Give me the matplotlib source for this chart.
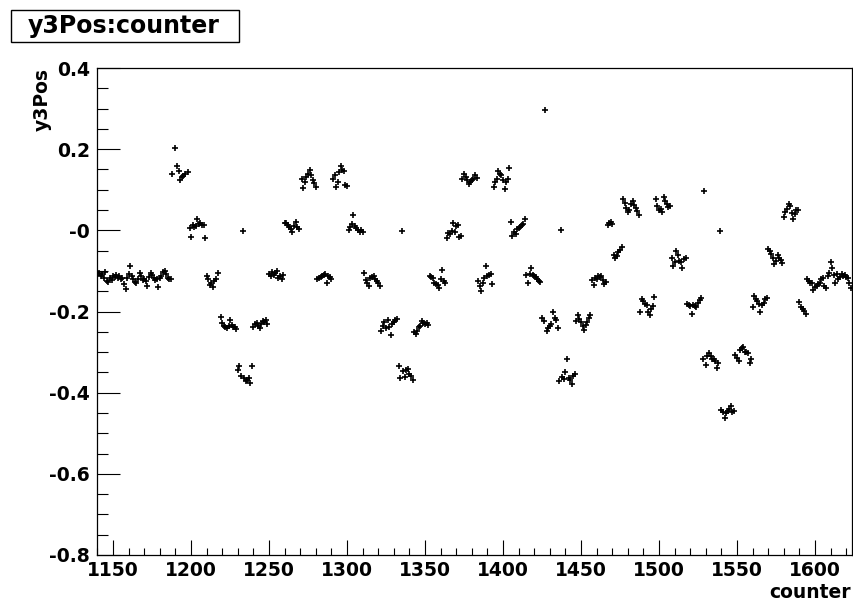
import matplotlib
matplotlib.use("Agg")
import matplotlib.pyplot as plt
from matplotlib.ticker import MultipleLocator, FixedLocator, FixedFormatter
from matplotlib.patches import Rectangle

# ---------------- data ----------------
counter_1 = [1140, 1141, 1142, 1143, 1144, 1145, 1146, 1147, 1148, 1149,
             1150, 1151, 1152, 1153, 1154, 1155, 1156, 1157, 1158, 1159,
             1160, 1161, 1162, 1163, 1164, 1165, 1166, 1167, 1168, 1169,
             1170, 1171, 1172, 1173, 1174, 1175, 1176, 1177, 1178, 1179,
             1180, 1181, 1182, 1183, 1184, 1185, 1186, 1187]
y3pos_1 = [-0.110, -0.105, -0.112, -0.108, -0.118, -0.103, -0.125, -0.128, -0.118, -0.122,
           -0.112, -0.115, -0.110, -0.118, -0.112, -0.121, -0.117, -0.132, -0.145, -0.118,
           -0.108, -0.088, -0.112, -0.120, -0.127, -0.130, -0.119, -0.106, -0.112, -0.123,
           -0.121, -0.126, -0.136, -0.115, -0.104, -0.110, -0.118, -0.122, -0.120, -0.139,
           -0.117, -0.112, -0.103, -0.100, -0.108, -0.117, -0.119, -0.121]

counter_2 = [1188, 1190, 1191, 1192, 1193, 1194, 1195, 1196, 1198,
             1199, 1200, 1201, 1202, 1203, 1204, 1205, 1206, 1207, 1208, 1209,
             1210, 1211, 1212, 1213, 1214, 1215, 1216, 1217,
             1219, 1220, 1221, 1222, 1223, 1224, 1225, 1226, 1227, 1228, 1229,
             1230, 1231, 1232, 1233, 1234, 1235, 1236, 1237, 1238, 1239,
             1240, 1241, 1242, 1243, 1244, 1245, 1246, 1247, 1248, 1249,
             1250, 1251, 1252, 1253, 1254, 1255, 1256, 1257, 1258, 1259,
             1260, 1261, 1262, 1263, 1264, 1265, 1266, 1267, 1268, 1269,
             1271, 1272, 1273, 1274, 1275, 1276, 1277, 1278, 1279, 1280,
             1281, 1282, 1283, 1284, 1285, 1286, 1287, 1288, 1289, 1290]
y3pos_2 = [0.140, 0.204, 0.159, 0.146, 0.124, 0.132, 0.135, 0.138, 0.143,
           0.005, -0.017, 0.012, 0.008, 0.010, 0.027, 0.016, 0.018, 0.013, 0.012, -0.020,
           -0.112, -0.121, -0.135, -0.129, -0.140, -0.126, -0.119, -0.104,
           -0.214, -0.229, -0.235, -0.239, -0.241, -0.236, -0.220, -0.233, -0.237, -0.239, -0.243,
           -0.345, -0.335, -0.360, -0.001, -0.365, -0.372, -0.368, -0.365, -0.375, -0.335,
           -0.237, -0.232, -0.229, -0.236, -0.241, -0.230, -0.223, -0.225, -0.220, -0.231,
           -0.108, -0.112, -0.103, -0.110, -0.106, -0.100, -0.117, -0.113, -0.121, -0.110,
           0.018, 0.019, 0.012, 0.008, 0.004, -0.003, 0.010, 0.020, 0.008, 0.004,
           0.126, 0.105, 0.120, 0.132, 0.138, 0.149, 0.136, 0.125, 0.116, 0.107,
           -0.121, -0.118, -0.114, -0.112, -0.109, -0.108, -0.129, -0.112, -0.115, -0.119]

counter_3 = [1291, 1292, 1293, 1294, 1295, 1296, 1297, 1298, 1299, 1300,
             1301, 1302, 1303, 1304, 1305, 1306, 1307, 1308, 1309, 1310,
             1311, 1312, 1313, 1314, 1315, 1316, 1317, 1318, 1319, 1320, 1321,
             1322, 1323, 1324, 1325, 1326, 1327, 1328, 1329, 1330, 1331, 1332,
             1333, 1334, 1335, 1336, 1337, 1338, 1339, 1340, 1341, 1342,
             1343, 1344, 1345, 1346, 1347, 1348, 1349, 1350, 1351, 1352,
             1353, 1354, 1355, 1356, 1357, 1358, 1359, 1360, 1361, 1362, 1363,
             1364, 1365, 1366, 1367, 1368, 1369, 1370, 1371, 1372, 1373,
             1374, 1375, 1376, 1377, 1378, 1379, 1380, 1381, 1382, 1383,
             1384, 1385, 1386, 1387, 1388, 1389, 1390, 1391, 1392, 1393]
y3pos_3 = [0.126, 0.136, 0.107, 0.120, 0.143, 0.159, 0.149, 0.146, 0.111, 0.110,
           0.002, 0.008, 0.016, 0.039, 0.010, 0.005, 0.000, -0.003, 0.002, -0.003,
           -0.104, -0.122, -0.130, -0.136, -0.117, -0.114, -0.112, -0.120, -0.125, -0.130, -0.136,
           -0.247, -0.235, -0.227, -0.240, -0.222, -0.238, -0.258, -0.231, -0.226, -0.221, -0.218,
           -0.334, -0.364, -0.002, -0.347, -0.361, -0.344, -0.341, -0.353, -0.358, -0.369,
           -0.250, -0.256, -0.248, -0.239, -0.236, -0.223, -0.228, -0.231, -0.229, -0.233,
           -0.112, -0.115, -0.117, -0.129, -0.132, -0.135, -0.143, -0.121, -0.098, -0.125, -0.129,
           -0.019, -0.007, -0.010, -0.002, 0.018, -0.005, 0.010, 0.014, -0.017, -0.013,
           0.127, 0.139, 0.132, 0.125, 0.114, 0.120, 0.124, 0.126, 0.136, 0.130,
           -0.125, -0.138, -0.150, -0.129, -0.118, -0.088, -0.112, -0.110, -0.108, -0.133]

counter_4 = [1394, 1395, 1396, 1397, 1398, 1399, 1400, 1401, 1402, 1403, 1404,
             1405, 1406, 1407, 1408, 1409, 1410, 1411, 1412, 1413, 1414,
             1415, 1416, 1417, 1418, 1419, 1420, 1421, 1422, 1423, 1424,
             1425, 1426, 1427, 1428, 1429, 1430, 1431, 1432, 1433, 1434, 1435,
             1436, 1437, 1438, 1439, 1440, 1441, 1442, 1443, 1444, 1445, 1446,
             1447, 1448, 1449, 1450, 1451, 1452, 1453, 1454, 1455, 1456,
             1457, 1458, 1459, 1460, 1461, 1462, 1463, 1464, 1465, 1466,
             1467, 1468, 1469, 1470,
             1471, 1472, 1473, 1474, 1475, 1476,
             1477, 1478, 1479, 1480, 1481, 1482, 1483, 1484, 1485, 1486, 1487,
             1488, 1489, 1490, 1491, 1492, 1493, 1494, 1495, 1496, 1497]
y3pos_4 = [0.107, 0.118, 0.126, 0.145, 0.140, 0.136, 0.124, 0.103, 0.118, 0.126, 0.153,
           0.020, -0.013, -0.005, -0.008, 0.004, 0.006, 0.009, 0.012, 0.016, 0.029,
           -0.110, -0.129, -0.108, -0.092, -0.110, -0.112, -0.115, -0.121, -0.124, -0.127,
           -0.216, -0.223, 0.297, -0.248, -0.241, -0.236, -0.231, -0.200, -0.215, -0.220, -0.241,
           -0.372, 0.000, -0.362, -0.367, -0.349, -0.318, -0.364, -0.370, -0.378, -0.360, -0.355,
           -0.223, -0.208, -0.218, -0.226, -0.235, -0.245, -0.233, -0.226, -0.215, -0.208,
           -0.123, -0.135, -0.117, -0.120, -0.112, -0.114, -0.112, -0.123, -0.133, -0.127,
           0.014, 0.018, 0.020, 0.016,
           -0.060, -0.068, -0.064, -0.054, -0.048, -0.040,
           0.076, 0.068, 0.056, 0.045, 0.050, 0.065, 0.073, 0.062, 0.056, 0.048, 0.037,
           -0.200, -0.168, -0.175, -0.181, -0.183, -0.200, -0.208, -0.195, -0.187, -0.165]

counter_5 = [1498, 1499, 1500, 1501, 1502, 1503, 1504, 1505, 1506, 1507,
             1508, 1509, 1510, 1511, 1512, 1513, 1514, 1515, 1516, 1517,
             1518, 1519, 1520, 1521, 1522, 1523, 1524, 1525, 1526, 1527,
             1528, 1529, 1530, 1531, 1532, 1533, 1534, 1535, 1536, 1537, 1538, 1539,
             1540, 1541, 1542, 1543, 1544, 1545, 1546, 1547, 1548,
             1549, 1550, 1551, 1552, 1553, 1554, 1555, 1556, 1557, 1558, 1559,
             1560, 1561, 1562, 1563, 1564, 1565, 1566, 1567, 1568, 1569,
             1570, 1571, 1572, 1573, 1574, 1575, 1576, 1577, 1578, 1579,
             1580, 1581, 1582, 1583, 1584, 1585, 1586, 1587, 1588, 1589,
             1590, 1591, 1592, 1593, 1594,
             1595, 1596, 1597, 1598, 1599, 1600, 1601, 1602, 1603, 1604,
             1605, 1606, 1607, 1608, 1609, 1610, 1611, 1612, 1613, 1614,
             1615, 1616, 1617, 1618, 1619, 1620, 1621, 1622, 1623]
y3pos_5 = [0.078, 0.059, 0.049, 0.052, 0.045, 0.083, 0.073, 0.065, 0.058, 0.060,
           -0.068, -0.088, -0.077, -0.052, -0.060, -0.075, -0.079, -0.092, -0.071, -0.067,
           -0.181, -0.185, -0.187, -0.206, -0.184, -0.187, -0.190, -0.180, -0.172, -0.166,
           -0.317, 0.097, -0.332, -0.310, -0.303, -0.309, -0.316, -0.316, -0.322, -0.339, -0.326, -0.002,
           -0.442, -0.447, -0.463, -0.450, -0.445, -0.440, -0.432, -0.448, -0.444,
           -0.306, -0.315, -0.322, -0.295, -0.290, -0.287, -0.299, -0.301, -0.303, -0.326, -0.316,
           -0.190, -0.162, -0.168, -0.173, -0.181, -0.200, -0.185, -0.178, -0.170, -0.166,
           -0.046, -0.052, -0.058, -0.068, -0.083, -0.075, -0.060, -0.067, -0.072, -0.081,
           0.034, 0.045, 0.052, 0.064, 0.059, 0.043, 0.029, 0.040, 0.051, 0.051,
           -0.176, -0.190, -0.194, -0.198, -0.206,
           -0.121, -0.125, -0.131, -0.129, -0.148, -0.140, -0.138, -0.133, -0.129, -0.120,
           -0.117, -0.138, -0.142, -0.113, -0.105, -0.079, -0.092, -0.110, -0.129, -0.108,
           -0.121, -0.115, -0.108, -0.112, -0.110, -0.115, -0.118, -0.130, -0.141]

x_major = [1150, 1200, 1250, 1300, 1350, 1400, 1450, 1500, 1550, 1600]
x_labels = ["1150", "1200", "1250", "1300", "1350", "1400", "1450", "1500", "1550", "1600"]
y_major = [-0.8, -0.6, -0.4, -0.2, 0.0, 0.2, 0.4]
y_labels = ["-0.8", "-0.6", "-0.4", "-0.2", "-0", "0.2", "0.4"]

title_text = "y3Pos:counter"
x_title = "counter"
y_title = "y3Pos"

# ---------------- figure ----------------
W, H = 854, 602
plt.rcParams['font.family'] = ['DejaVu Sans']
fig = plt.figure(figsize=(W / 100, H / 100), dpi=100)
fig.patch.set_facecolor('white')

L, R, T, B = 97, 852, 68, 555
ax = fig.add_axes([L / W, 1 - B / H, (R - L) / W, (B - T) / H])

for cx, cy in [(counter_1, y3pos_1), (counter_2, y3pos_2), (counter_3, y3pos_3),
               (counter_4, y3pos_4), (counter_5, y3pos_5)]:
    ax.plot(cx, cy, linestyle='none', marker='+', markersize=4.0,
            markeredgewidth=1.2, color='black')

ax.set_xlim(1139.7, 1623.7)
ax.set_ylim(-0.8, 0.4)

ax.xaxis.set_major_locator(FixedLocator(x_major))
ax.xaxis.set_major_formatter(FixedFormatter(x_labels))
ax.xaxis.set_minor_locator(MultipleLocator(10))
ax.yaxis.set_major_locator(FixedLocator(y_major))
ax.yaxis.set_major_formatter(FixedFormatter(y_labels))
ax.yaxis.set_minor_locator(MultipleLocator(0.05))

ax.tick_params(axis='x', which='major', direction='in', length=10.5, width=0.8,
               top=False, pad=4, labelsize=13.5)
ax.tick_params(axis='x', which='minor', direction='in', length=5.3, width=0.8, top=False)
ax.tick_params(axis='y', which='major', direction='in', length=16.3, width=0.8,
               right=False, pad=5, labelsize=13.5)
ax.tick_params(axis='y', which='minor', direction='in', length=8.1, width=0.8, right=False)
for lab in ax.get_xticklabels() + ax.get_yticklabels():
    lab.set_fontweight('bold')
for sp in ax.spines.values():
    sp.set_linewidth(0.9)
    sp.set_color('black')

# axis titles
fig.text(42 / W, 1 - T / H, y_title, rotation=90, ha='center', va='top',
         fontsize=13.5, fontweight='bold')
fig.text(851 / W, 1 - 593 / H, x_title, ha='right', va='center',
         fontsize=13.5, fontweight='bold')

# title box
fig.patches.append(Rectangle((11 / W, 1 - 42 / H), (239 - 11) / W, (42 - 10) / H,
                             transform=fig.transFigure, fill=False,
                             edgecolor='black', linewidth=1.0))
fig.text(124 / W, 1 - 26 / H, title_text, ha='center', va='center',
         fontsize=17, fontweight='bold')

fig.savefig("out.png", dpi=100)
